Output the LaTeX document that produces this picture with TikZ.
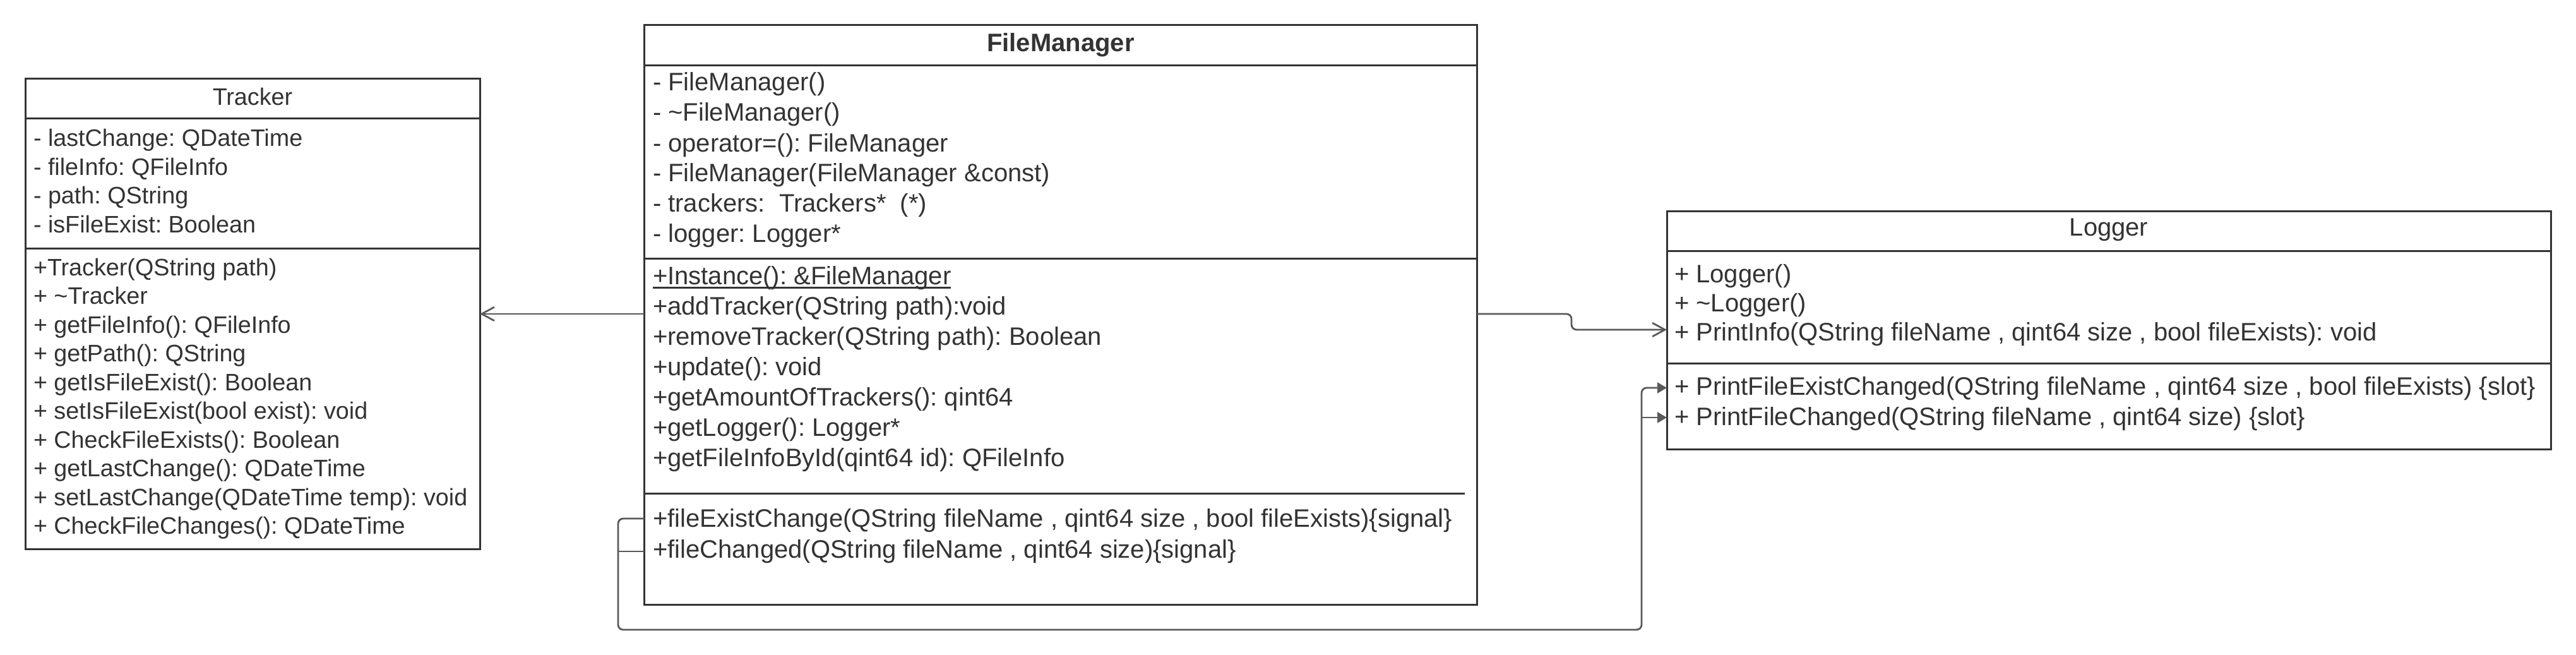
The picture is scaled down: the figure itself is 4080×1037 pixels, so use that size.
\documentclass[tikz,border=0pt]{standalone}
\usepackage{fontspec}
\setmainfont{Liberation Sans}
\usetikzlibrary{arrows.meta}
\definecolor{ink}{HTML}{333333}
\definecolor{wire}{HTML}{595959}
\frenchspacing
\begin{document}
\frenchspacing
\begin{tikzpicture}[x=0.25pt,y=-0.25pt,
  box/.style={draw=ink, line width=0.75pt, rectangle, inner sep=0pt, outer sep=0pt},
  sep/.style={draw=ink, line width=0.75pt},
  txt/.style={anchor=base west, inner sep=0pt, outer sep=0pt, text=ink, font=\fontsize{10}{12}\selectfont},
  ttxt/.style={txt, font=\fontsize{9.43}{11}\selectfont},
  ttl/.style={anchor=base, inner sep=0pt, text=ink, font=\fontsize{10}{12}\selectfont},
  conn/.style={draw=wire, line width=0.7pt, rounded corners=2pt},
  openarrow/.style={-{Straight Barb[length=5pt,width=5.4pt,line width=0.7pt]}},
  fillarrow/.style={-{Triangle[length=3.75pt,width=4.25pt]}}
]
\useasboundingbox (0,0) rectangle (4080,1037);

% ---------------- Tracker ----------------
\node[box, minimum width=180pt, minimum height=186pt] (tr) at (400,497) {};
\draw[sep] (tr.west |- 0,188) -- (tr.east |- 0,188);
\draw[sep] (tr.west |- 0,393) -- (tr.east |- 0,393);
\node[ttl, font=\fontsize{9.43}{11}\selectfont] (trtitle) at (400,167) {Tracker};
\node[ttxt] (ta1) at (53,232) {- lastChange: QDateTime};
\node[ttxt] (ta2) at (53,277.5) {- fileInfo: QFileInfo};
\node[ttxt] (ta3) at (53,323) {- path: QString};
\node[ttxt] (ta4) at (53,368.5) {- isFileExist: Boolean};
\node[ttxt] (tm1) at (53,436) {+Tracker(QString path)};
\node[ttxt] (tm2) at (53,481.5) {+ \textasciitilde Tracker};
\node[ttxt] (tm3) at (53,527) {+ getFileInfo(): QFileInfo};
\node[ttxt] (tm4) at (53,572.5) {+ getPath(): QString};
\node[ttxt] (tm5) at (53,618) {+ getIsFileExist(): Boolean};
\node[ttxt] (tm6) at (53,663.5) {+ setIsFileExist(bool exist): void};
\node[ttxt] (tm7) at (53,709) {+ CheckFileExists(): Boolean};
\node[ttxt] (tm8) at (53,754.5) {+ getLastChange(): QDateTime};
\node[ttxt] (tm9) at (53,800) {+ setLastChange(QDateTime temp): void};
\node[ttxt] (tm10) at (53,845.5) {+ CheckFileChanges(): QDateTime};

% ---------------- FileManager ----------------
\node[box, minimum width=329.75pt, minimum height=229.25pt] (fm) at (1679.5,498.5) {};
\draw[sep] (fm.west |- 0,104) -- (fm.east |- 0,104);
\draw[sep] (fm.west |- 0,409) -- (fm.east |- 0,409);
\coordinate (fmsepend) at (2320,781);
\draw[sep] (fm.west |- fmsepend) -- (fmsepend);
\node[ttl, font=\bfseries\fontsize{10}{12}\selectfont] (fmtitle) at (1680,82) {FileManager};
\node[txt] (fa1) at (1034,144) {- FileManager()};
\node[txt] (fa2) at (1034,192) {- \textasciitilde FileManager()};
\node[txt] (fa3) at (1034,240) {- operator=(): FileManager};
\node[txt] (fa4) at (1034,288) {- FileManager(FileManager \&const)};
\node[txt] (fa5) at (1034,336) {- trackers:\ \ Trackers*\ \ (*)};
\node[txt] (fa6) at (1034,383) {- logger: Logger*};
\node[txt] (fm1) at (1034,450) {+Instance(): \&FileManager};
\draw[ink, line width=0.75pt] ([yshift=-1.3pt]fm1.base west) -- ([yshift=-1.3pt]fm1.base east);
\node[txt] (fm2) at (1034,498) {+addTracker(QString path):void};
\node[txt] (fm3) at (1034,546) {+removeTracker(QString path): Boolean};
\node[txt] (fm4) at (1034,594) {+update(): void};
\node[txt] (fm5) at (1034,642) {+getAmountOfTrackers(): qint64};
\node[txt] (fm6) at (1034,690) {+getLogger(): Logger*};
\node[txt] (fm7) at (1034,738) {+getFileInfoById(qint64 id): QFileInfo};
\node[txt] (fs1) at (1034,834) {+fileExistChange(QString fileName , qint64 size , bool fileExists)\{signal\}};
\node[txt] (fs2) at (1034,883) {+fileChanged(QString fileName , qint64 size)\{signal\}};

% ---------------- Logger ----------------
\node[box, minimum width=350pt, minimum height=94.25pt] (lg) at (3340,522.5) {};
\draw[sep] (lg.west |- 0,397) -- (lg.east |- 0,397);
\draw[sep] (lg.west |- 0,575) -- (lg.east |- 0,575);
\node[ttl] (lgtitle) at (3340,373) {Logger};
\node[txt] (lm1) at (2652,447) {+ Logger()};
\node[txt] (lm2) at (2652,493) {+ \textasciitilde Logger()};
\node[txt] (lm3) at (2652,539) {+ PrintInfo(QString fileName , qint64 size , bool fileExists): void};
\node[txt] (ls1) at (2652,625) {+ PrintFileExistChanged(QString fileName , qint64 size , bool fileExists) \{slot\}};
\node[txt] (ls2) at (2652,673) {+ PrintFileChanged(QString fileName , qint64 size) \{slot\}};

% ---------------- Connectors ----------------
% FileManager -> Tracker
\draw[conn, openarrow] (fm.west |- tr.east) -- (tr.east);
% FileManager -> Logger (PrintInfo)
\coordinate (pinfo) at (2640,522);
\coordinate (jog) at (2489,522);
\draw[conn, openarrow] (fm.east |- tr.east) -| (jog) -- (lg.west |- pinfo);
% signals -> slots
\coordinate (sig1) at (1020,821);
\coordinate (sig2) at (1020,873);
\coordinate (busl) at (979,997);
\coordinate (busr) at (2600,997);
\coordinate (slot1) at (2640,614);
\coordinate (slot2) at (2640,661);
\draw[conn, fillarrow] (fm.west |- sig1) -- (busl |- sig1) -- (busl) -- (busr) -- (busr |- slot1) -- (lg.west |- slot1);
\draw[conn] (fm.west |- sig2) -- (busl |- sig2);
\draw[conn, fillarrow] (busr |- slot2) -- (lg.west |- slot2);
\end{tikzpicture}
\end{document}
